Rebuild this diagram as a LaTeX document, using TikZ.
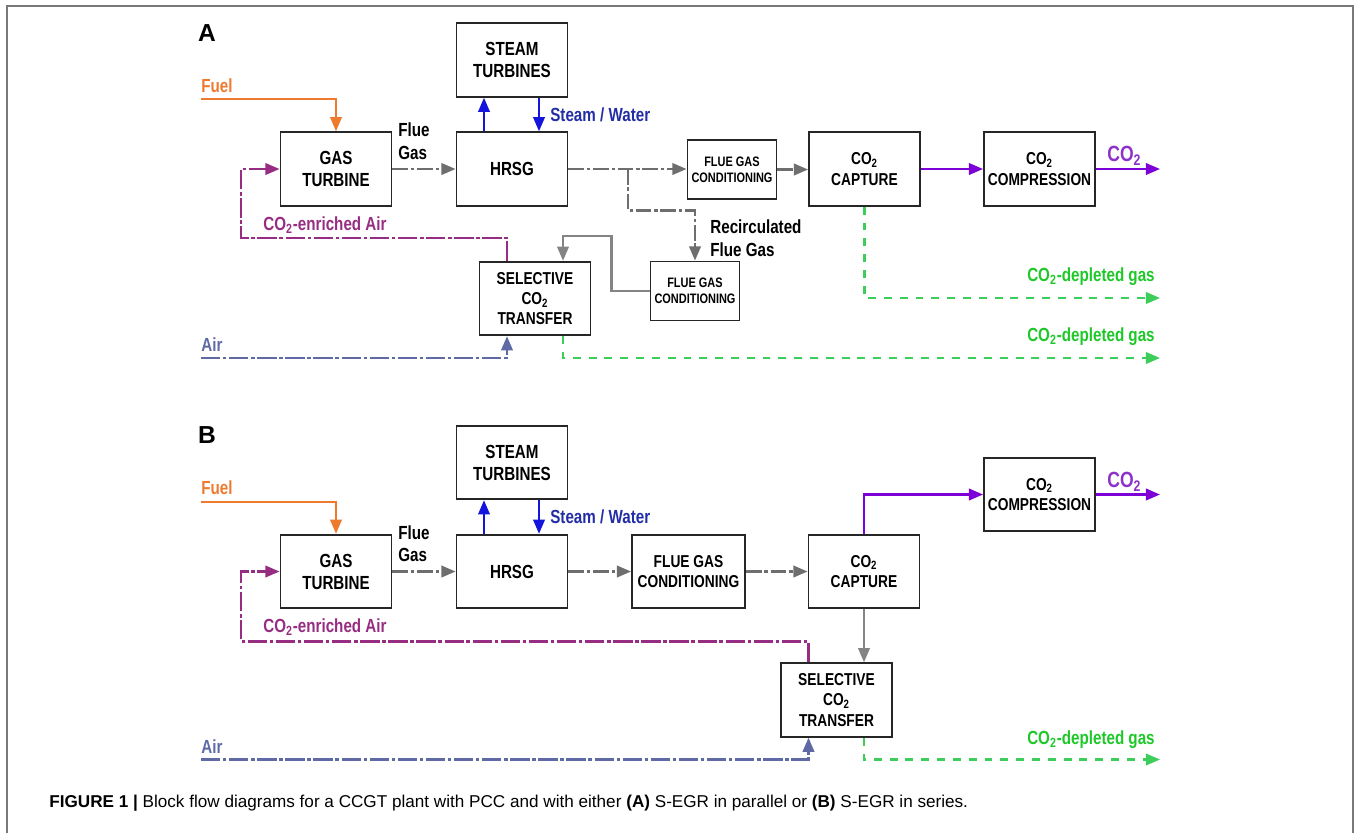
\documentclass[tikz,border=0pt]{standalone}
\usepackage{fontspec}
\setmainfont{Liberation Sans}
\newfontfamily\narrowsf[FakeStretch=0.8]{Liberation Sans}
\usetikzlibrary{arrows.meta,calc}
\definecolor{fuelc}{RGB}{238,122,48}
\definecolor{steamc}{RGB}{20,20,220}
\definecolor{steamt}{RGB}{35,45,165}
\definecolor{fluec}{RGB}{110,110,110}
\definecolor{enrc}{RGB}{150,45,130}
\definecolor{prodc}{RGB}{125,0,215}
\definecolor{prodt}{RGB}{140,50,200}
\definecolor{airc}{RGB}{95,105,165}
\definecolor{depc}{RGB}{60,205,90}
\definecolor{dept}{RGB}{30,200,40}
\definecolor{framec}{RGB}{120,120,120}
\newcommand{\cotwo}{CO\textsubscript{2}}
\tikzset{
  blk/.style={draw=black!85,line width=1.1pt,minimum width=2.22cm,minimum height=1.47cm,align=center,inner sep=1pt,
    font=\narrowsf\bfseries\fontsize{10.8}{12.5}\selectfont},
  sblk/.style={blk,font=\narrowsf\bfseries\fontsize{9.8}{11.5}\selectfont},
  tblk/.style={blk,minimum width=1.78cm,minimum height=1.18cm,font=\narrowsf\bfseries\fontsize{7.8}{9.2}\selectfont},
  lbl/.style={inner sep=0pt,font=\narrowsf\bfseries\fontsize{10.8}{13}\selectfont},
  panel/.style={inner sep=0pt,font=\bfseries\fontsize{14}{16}\selectfont},
  arr/.style={-{Triangle[length=8pt,width=6.5pt]}},
  fuel/.style={arr,fuelc,line width=1.2pt},
  steam/.style={arr,steamc,line width=1.2pt},
  flue/.style={arr,fluec,line width=1.3pt,dash pattern=on 9pt off 1.5pt on 2pt off 1.5pt},
  flueS/.style={arr,fluec!85,line width=1.2pt},
  enr/.style={arr,enrc,line width=1.2pt,dash pattern=on 11pt off 1.5pt on 2pt off 1.5pt},
  air/.style={arr,airc,line width=1.3pt,dash pattern=on 11pt off 1.5pt on 2pt off 1.5pt},
  prod/.style={arr,prodc,line width=1.3pt},
  dep/.style={arr,depc,line width=1.3pt,dash pattern=on 4.5pt off 4.5pt},
}
\begin{document}
\begin{tikzpicture}[x=0.02cm,y=-0.02cm]
\useasboundingbox (0,0) rectangle (1356,833);
\draw[framec,line width=0.8pt] (7,833) |- (1353,6) -- (1353,833);

% (A) S-EGR in parallel
\node[panel] (labA) at (207,33.5) {A};
\node[blk] (st) at (512,60) {STEAM\\TURBINES};
\node[blk] (gt) at (336,169) {GAS\\TURBINE};
\node[blk] (hrsg) at (512,169) {HRSG};
\node[tblk] (fgc) at (732,169.5) {FLUE GAS\\CONDITIONING};
\node[sblk] (cap) at (864.5,169) {\cotwo\\CAPTURE};
\node[sblk] (comp) at (1039.5,169) {\cotwo\\COMPRESSION};
\node[tblk] (fgcr) at (695,291) {FLUE GAS\\CONDITIONING};
\node[sblk] (sct) at (535,298.5) {SELECTIVE\\\cotwo\\TRANSFER};

\coordinate (fuelA) at (201,99);
\coordinate (brA) at (628,169);
\coordinate (co2A) at (1160,169);
\coordinate (eaA) at (241,238);
\coordinate (airA) at (201,358);
\coordinate (depA1) at (1160,298);
\coordinate (depA2) at (1160,358);

\draw[fuel] (fuelA) -| (gt.north);
\draw[flue] (gt) -- (hrsg);
\draw[steam] ($(hrsg.north)+(-28,0)$) -- ($(st.south)+(-28,0)$);
\draw[steam] ($(st.south)+(27,0)$) -- ($(hrsg.north)+(27,0)$);
\draw[flue] (hrsg.east) -- (hrsg.east -| fgc.west);
\draw[flue] (brA) |- ($(fgcr.north)+(0,-50)$) -- (fgcr.north);
\draw[flue] (fgc.east) -- (fgc.east -| cap.west);
\draw[prod] (cap) -- (comp);
\draw[prod] (comp) -- (co2A);
\draw[flueS] (fgcr.west) -- ++(-38,0) |- ($(sct.north)+(28,-25)$) -- ($(sct.north)+(28,0)$);
\draw[enr] ($(sct.north)+(-28,0)$) |- (eaA) |- (gt.west);
\draw[air] (airA) -| ($(sct.south)+(-28,0)$);
\draw[dep] (cap.south) |- (depA1);
\draw[dep] ($(sct.south)+(28,0)$) |- (depA2);

\node[lbl,fuelc,anchor=west] (fuelAl) at (201,86) {Fuel};
\node[lbl,anchor=west,align=left] (fgA) at (398,141.5) {Flue\\Gas};
\node[lbl,steamt,anchor=west] (swA) at (550,115) {Steam / Water};
\node[lbl,anchor=west,align=left] (rfgA) at (710,238) {Recirculated\\Flue Gas};
\node[lbl,enrc,anchor=west] (eaAl) at (263,225) {\cotwo-enriched Air};
\node[lbl,prodt,anchor=west,font=\narrowsf\bfseries\fontsize{12.5}{14}\selectfont] (co2Al) at (1107,156) {\cotwo};
\node[lbl,dept,anchor=east] (depA1l) at (1155,277) {\cotwo-depleted gas};
\node[lbl,dept,anchor=east] (depA2l) at (1155,337) {\cotwo-depleted gas};
\node[lbl,airc,anchor=west] (airAl) at (201,344.5) {Air};

% (B) S-EGR in series
\node[panel] (labB) at (207,435) {B};
\node[blk] (stB) at (512,462.5) {STEAM\\TURBINES};
\node[blk] (gtB) at (336,571.5) {GAS\\TURBINE};
\node[blk] (hrsgB) at (512,571.5) {HRSG};
\node[sblk,minimum width=2.26cm] (fgcB) at (688.5,571.5) {FLUE GAS\\CONDITIONING};
\node[sblk] (capB) at (864,571.5) {\cotwo\\CAPTURE};
\node[sblk] (compB) at (1039.5,494.5) {\cotwo\\COMPRESSION};
\node[sblk] (sctB) at (836.5,700) {SELECTIVE\\\cotwo\\TRANSFER};

\coordinate (fuelB) at (201,502);
\coordinate (co2B) at (1160,494.5);
\coordinate (eaB) at (241,641.5);
\coordinate (airB) at (201,759.5);
\coordinate (depB) at (1160,759.5);

\draw[fuel] (fuelB) -| (gtB.north);
\draw[flue] (gtB) -- (hrsgB);
\draw[steam] ($(hrsgB.north)+(-28,0)$) -- ($(stB.south)+(-28,0)$);
\draw[steam] ($(stB.south)+(27,0)$) -- ($(hrsgB.north)+(27,0)$);
\draw[flue] (hrsgB) -- (fgcB);
\draw[flue] (fgcB) -- (capB);
\draw[prod] (capB.north) |- (compB.west);
\draw[prod] (compB) -- (co2B);
\draw[flueS] (capB.south) -- (capB.south |- sctB.north);
\draw[enr] ($(sctB.north)+(-28,0)$) |- (eaB) |- (gtB.west);
\draw[air] (airB) -| ($(sctB.south)+(-28,0)$);
\draw[dep] (sctB.south -| capB.south) |- (depB);

\node[lbl,fuelc,anchor=west] (fuelBl) at (201,488) {Fuel};
\node[lbl,anchor=west,align=left] (fgB) at (398,543.7) {Flue\\Gas};
\node[lbl,steamt,anchor=west] (swB) at (550,516.7) {Steam / Water};
\node[lbl,enrc,anchor=west] (eaBl) at (263,626.7) {\cotwo-enriched Air};
\node[lbl,prodt,anchor=west,font=\narrowsf\bfseries\fontsize{12.5}{14}\selectfont] (co2Bl) at (1107,482) {\cotwo};
\node[lbl,dept,anchor=east] (depBl) at (1155,740) {\cotwo-depleted gas};
\node[lbl,airc,anchor=west] (airBl) at (201,746.7) {Air};

\node[anchor=west,inner sep=0pt,font=\fontsize{9.75}{11}\selectfont] (figcap) at (49,803)
  {\textbf{FIGURE 1 |} Block flow diagrams for a CCGT plant with PCC and with either \textbf{(A)} S-EGR in parallel or \textbf{(B)} S-EGR in series.};
\end{tikzpicture}
\end{document}
